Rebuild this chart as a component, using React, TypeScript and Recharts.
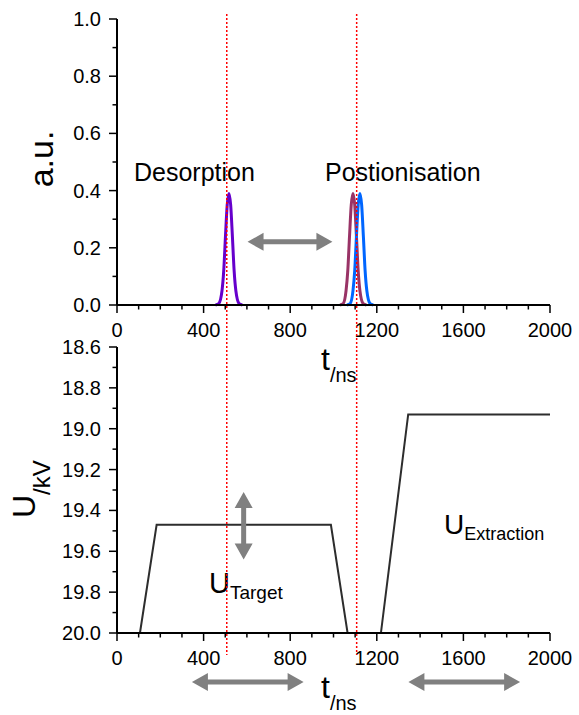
import React from 'react';
import { LineChart, Line, XAxis, YAxis } from 'recharts';

const W = 579;
const H = 715;
const FONT = "Arial, 'Liberation Sans', Helvetica, sans-serif";

// ---- data ----
const timeTicks = [0, 100, 200, 300, 400, 500, 600, 700, 800, 900, 1000, 1100, 1200, 1300, 1400, 1500, 1600, 1700, 1800, 1900, 2000];
const timeLabels = [0, 400, 800, 1200, 1600, 2000];
const signalTicks = [0, 0.1, 0.2, 0.3, 0.4, 0.5, 0.6, 0.7, 0.8, 0.9, 1.0];
const signalLabels = [0, 0.2, 0.4, 0.6, 0.8, 1.0];
const voltageTicks = [18.6, 18.7, 18.8, 18.9, 19.0, 19.1, 19.2, 19.3, 19.4, 19.5, 19.6, 19.7, 19.8, 19.9, 20.0];
const voltageLabels = [18.6, 18.8, 19.0, 19.2, 19.4, 19.6, 19.8, 20.0];

const desorptionPeak = [
  { t: 455, v: 0 }, { t: 470, v: 0.005 }, { t: 485, v: 0.05 }, { t: 493, v: 0.12 }, { t: 501, v: 0.24 },
  { t: 509, v: 0.35 }, { t: 517, v: 0.39 }, { t: 525, v: 0.35 }, { t: 533, v: 0.24 }, { t: 541, v: 0.12 },
  { t: 549, v: 0.05 }, { t: 564, v: 0.005 }, { t: 579, v: 0 },
];
const ionPeakEarly = [
  { t: 1030, v: 0 }, { t: 1045, v: 0.005 }, { t: 1058, v: 0.05 }, { t: 1066, v: 0.12 }, { t: 1074, v: 0.24 },
  { t: 1082, v: 0.35 }, { t: 1090, v: 0.39 }, { t: 1098, v: 0.35 }, { t: 1106, v: 0.24 }, { t: 1114, v: 0.12 },
  { t: 1122, v: 0.05 }, { t: 1137, v: 0.005 }, { t: 1152, v: 0 },
];
const ionPeakLate = [
  { t: 1062, v: 0 }, { t: 1077, v: 0.005 }, { t: 1090, v: 0.05 }, { t: 1098, v: 0.12 }, { t: 1106, v: 0.24 },
  { t: 1114, v: 0.35 }, { t: 1122, v: 0.39 }, { t: 1130, v: 0.35 }, { t: 1138, v: 0.24 }, { t: 1146, v: 0.12 },
  { t: 1154, v: 0.05 }, { t: 1169, v: 0.005 }, { t: 1184, v: 0 },
];

const voltageTime = [106, 183, 988, 1065, 1219, 1345, 2000];
const voltageValue = [20.0, 19.47, 19.47, 20.0, 20.0, 18.93, 18.93];
const voltageData = voltageTime.map((t, i) => ({ t, u: voltageValue[i] }));

const markerTimes = [507, 1107];

// annotation arrows in data coordinates
const signalArrow = { t1: 603, t2: 995, v: 0.221 };
const targetArrow = { t: 585, u1: 19.31, u2: 19.64 };
const timeArrows = [
  { t1: 346, t2: 862 },
  { t1: 1346, t2: 1862 },
];

// ---- layout ----
const PLOT_L = 117;
const PLOT_R = 550;
const TOP_T = 19;
const TOP_B = 305;
const BOT_T = 347;
const BOT_B = 633;

const xPix = (t: number) => PLOT_L + (t / 2000) * (PLOT_R - PLOT_L);
const yTop = (v: number) => TOP_B - v * (TOP_B - TOP_T);
const yBot = (u: number) => BOT_T + ((u - 18.6) / 1.4) * (BOT_B - BOT_T);

const isIn = (list: number[], v: number) => list.some((x) => Math.abs(x - v) < 1e-6);

const XTick = (props: any) => {
  const { x, y, payload } = props;
  const v = payload.value;
  const major = isIn(timeLabels, v);
  return (
    <g>
      <line x1={x} y1={y} x2={x} y2={y + (major ? 8 : 4.5)} stroke="#000" strokeWidth={1.5} />
      {major && (
        <text x={x} y={y + 32} textAnchor="middle" fontSize={20} fontFamily={FONT} fill="#000">
          {v}
        </text>
      )}
    </g>
  );
};

const makeYTick = (labels: number[]) => (props: any) => {
  const { x, y, payload } = props;
  const v = payload.value;
  const major = isIn(labels, v);
  return (
    <g>
      <line x1={x} y1={y} x2={x - (major ? 8 : 4.5)} y2={y} stroke="#000" strokeWidth={1.5} />
      {major && (
        <text x={x - 16} y={y + 7} textAnchor="end" fontSize={20} fontFamily={FONT} fill="#000">
          {Number(v).toFixed(1)}
        </text>
      )}
    </g>
  );
};
const SignalTick = makeYTick(signalLabels);
const VoltageTick = makeYTick(voltageLabels);

const GRAY = '#808080';
const HArrow = ({ x1, x2, y }: { x1: number; x2: number; y: number }) => {
  const hl = 16, hw = 9, sw = 2.5;
  const pts = [
    [x1, y], [x1 + hl, y - hw], [x1 + hl, y - sw], [x2 - hl, y - sw], [x2 - hl, y - hw], [x2, y],
    [x2 - hl, y + hw], [x2 - hl, y + sw], [x1 + hl, y + sw], [x1 + hl, y + hw],
  ];
  return <polygon points={pts.map((p) => p.join(',')).join(' ')} fill={GRAY} />;
};
const VArrow = ({ y1, y2, x }: { y1: number; y2: number; x: number }) => {
  const hl = 16, hw = 9, sw = 2.5;
  const pts = [
    [x, y1], [x + hw, y1 + hl], [x + sw, y1 + hl], [x + sw, y2 - hl], [x + hw, y2 - hl], [x, y2],
    [x - hw, y2 - hl], [x - sw, y2 - hl], [x - sw, y1 + hl], [x - hw, y1 + hl],
  ];
  return <polygon points={pts.map((p) => p.join(',')).join(' ')} fill={GRAY} />;
};

const axisLine = { stroke: '#000', strokeWidth: 2 };

export default function App() {
  return (
    <div style={{ position: 'absolute', left: 0, top: 0, width: W, height: H, background: '#fff', overflow: 'hidden' }}>
      <div style={{ position: 'absolute', left: 0, top: 0 }}>
        <LineChart width={W} height={H} margin={{ top: TOP_T, right: W - PLOT_R, left: 0, bottom: H - TOP_B - 30 }}>
          <XAxis
            dataKey="t"
            type="number"
            domain={[0, 2000]}
            ticks={timeTicks}
            interval={0}
            tickSize={0}
            tickMargin={0}
            height={30}
            axisLine={axisLine}
            tick={<XTick />}
            allowDuplicatedCategory={false}
          />
          <YAxis
            type="number"
            domain={[0, 1]}
            ticks={signalTicks}
            interval={0}
            tickSize={0}
            tickMargin={0}
            width={PLOT_L}
            axisLine={axisLine}
            tick={<SignalTick />}
          />
          <Line data={desorptionPeak} dataKey="v" type="monotone" stroke="#6600cc" strokeWidth={3} dot={false} isAnimationActive={false} />
          <Line data={ionPeakEarly} dataKey="v" type="monotone" stroke="#993366" strokeWidth={3} dot={false} isAnimationActive={false} />
          <Line data={ionPeakLate} dataKey="v" type="monotone" stroke="#0066ff" strokeWidth={3} dot={false} isAnimationActive={false} />
        </LineChart>
      </div>
      <div style={{ position: 'absolute', left: 0, top: 0 }}>
        <LineChart data={voltageData} width={W} height={H} margin={{ top: BOT_T, right: W - PLOT_R, left: 0, bottom: H - BOT_B - 40 }}>
          <XAxis
            dataKey="t"
            type="number"
            domain={[0, 2000]}
            ticks={timeTicks}
            interval={0}
            tickSize={0}
            tickMargin={0}
            height={40}
            axisLine={axisLine}
            tick={<XTick />}
          />
          <YAxis
            type="number"
            domain={[18.6, 20.0]}
            reversed
            ticks={voltageTicks}
            interval={0}
            tickSize={0}
            tickMargin={0}
            width={PLOT_L}
            axisLine={axisLine}
            tick={<VoltageTick />}
          />
          <Line dataKey="u" type="linear" stroke="#2d2d2d" strokeWidth={2} dot={false} isAnimationActive={false} />
        </LineChart>
      </div>
      <svg width={W} height={H} style={{ position: 'absolute', left: 0, top: 0, pointerEvents: 'none' }} fontFamily={FONT}>
        {/* annotation text */}
        <text x={134} y={181} fontSize={25} fill="#000">Desorption</text>
        <text x={325} y={181} fontSize={25} fill="#000">Postionisation</text>
        <text transform="rotate(-90)" x={-159} y={53} fontSize={34} textAnchor="middle" fill="#000">a.u.</text>
        <text transform="rotate(-90)" x={-518} y={35} fill="#000">
          <tspan fontSize={32}>U</tspan>
          <tspan fontSize={24} dy={15}>/kV</tspan>
        </text>
        <text x={321} y={370} fill="#000">
          <tspan fontSize={32}>t</tspan>
          <tspan fontSize={20} dy={12}>/ns</tspan>
        </text>
        <text x={321} y={698} fill="#000">
          <tspan fontSize={32}>t</tspan>
          <tspan fontSize={20} dy={12}>/ns</tspan>
        </text>
        <text x={209} y={593} fill="#000">
          <tspan fontSize={29}>U</tspan>
          <tspan fontSize={19} dy={6}>Target</tspan>
        </text>
        <text x={444} y={534} fill="#000">
          <tspan fontSize={28}>U</tspan>
          <tspan fontSize={18} dy={6}>Extraction</tspan>
        </text>
        {/* arrows */}
        <HArrow x1={xPix(signalArrow.t1)} x2={xPix(signalArrow.t2)} y={yTop(signalArrow.v)} />
        <VArrow x={xPix(targetArrow.t)} y1={yBot(targetArrow.u1)} y2={yBot(targetArrow.u2)} />
        {timeArrows.map((a, i) => (
          <HArrow key={i} x1={xPix(a.t1)} x2={xPix(a.t2)} y={682} />
        ))}
        {/* marker lines */}
        {markerTimes.map((t, i) => (
          <line key={i} x1={xPix(t)} x2={xPix(t)} y1={14} y2={655} stroke="#ff0000" strokeWidth={1.5} strokeDasharray="2 2" />
        ))}
      </svg>
    </div>
  );
}
